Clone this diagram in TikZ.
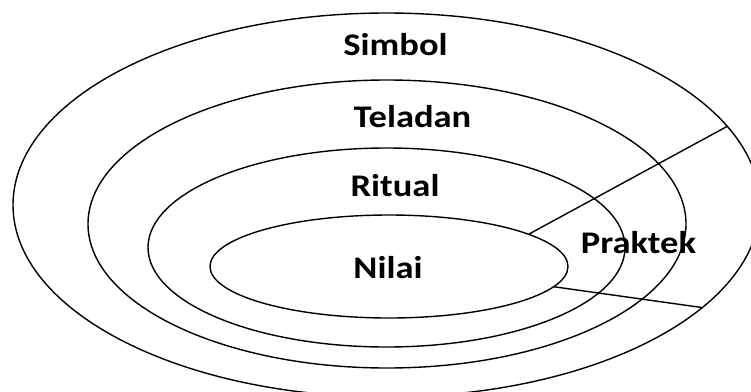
\documentclass[tikz,border=0pt]{standalone}
\usepackage{fontspec}
\setmainfont{Carlito}
\usetikzlibrary{shapes.geometric}

\begin{document}
\begin{tikzpicture}[x=1pt,y=-1pt,
  ring/.style={draw,ellipse,line width=1.4pt,inner sep=0pt,outer sep=0pt},
  slice/.style={line width=1.4pt},
  lbl/.style={font=\fontsize{31.5}{36}\selectfont\bfseries,xscale=1.16,anchor=base,inner sep=0pt}]
\useasboundingbox (0,0) rectangle (751,391);
\clip (0,0) rectangle (751,391);
% rings, outside in
\node[ring,minimum width=747pt,minimum height=384pt] (simbol) at (386.5,205) {};
\node[ring,minimum width=598pt,minimum height=288pt] (teladan) at (387,224) {};
\node[ring,minimum width=477pt,minimum height=199pt] (ritual) at (386.5,247.5) {};
\node[ring,minimum width=358pt,minimum height=103pt] (nilai) at (389,266.5) {};
% the Praktek slice
\draw[slice] (nilai.13.5) -- (simbol.13.6);
\draw[slice] (nilai.-7.5) -- (simbol.-18.2);
% labels
\node[lbl] (tsimbol) at (395.5,55) {Simbol};
\node[lbl] (tteladan) at (412.5,127) {Teladan};
\node[lbl] (tritual) at (395,196) {Ritual};
\node[lbl] (tnilai) at (388,278) {Nilai};
\node[lbl] (tpraktek) at (638.5,253) {Praktek};
\end{tikzpicture}
\end{document}
